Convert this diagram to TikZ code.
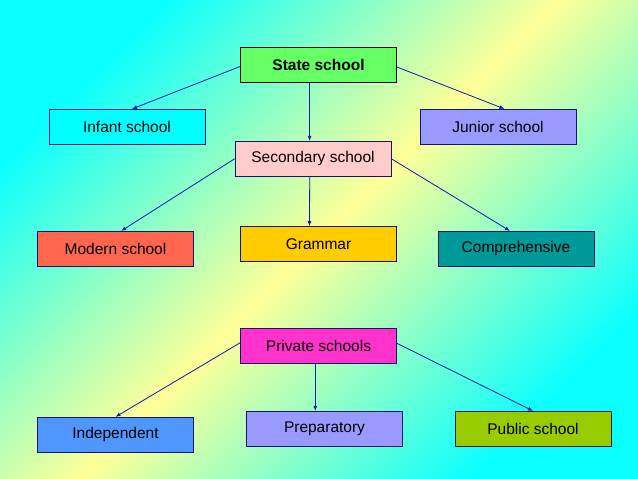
\documentclass[tikz,border=0pt]{standalone}
\usepackage{fontspec}
\setmainfont{Liberation Sans}
\usetikzlibrary{arrows.meta}

\definecolor{bgcyan}{RGB}{10,255,255}
\definecolor{bgyellow}{RGB}{255,255,153}
\definecolor{boxline}{RGB}{20,20,110}
\definecolor{arrowblue}{RGB}{10,30,170}

\begin{document}
\begin{tikzpicture}[x=1pt,y=-1pt,
		school/.style={rectangle,draw=boxline,line width=0.8pt,minimum width=156pt,minimum height=35pt,inner sep=0pt,font={\fontsize{15.5}{18}\selectfont}},
		link/.style={-{Latex[length=5pt,width=4pt]},draw=arrowblue,line width=0.8pt}]

	\useasboundingbox (0,0) rectangle (638,479);
	\shade[left color=bgcyan,right color=bgcyan,middle color=bgyellow,shading angle=45] (0,0) rectangle (638,479);

	% state schools
	\node[school,fill={rgb,255:red,102;green,255;blue,102},draw=black,font={\fontsize{15.5}{18}\selectfont\bfseries}] (state) at (318.5,65) {State school};
	\node[school,fill={rgb,255:red,0;green,255;blue,255}] (infant) at (127,126.8) {Infant school};
	\node[school,fill={rgb,255:red,153;green,153;blue,255}] (junior) at (498,126.8) {Junior school};
	\node[school,fill={rgb,255:red,255;green,204;blue,204}] (secondary) at (313,158.8) {Secondary school};

	\node[school,fill={rgb,255:red,255;green,102;blue,77}] (modern) at (115.5,248.8) {Modern school};
	\node[school,fill={rgb,255:red,255;green,204;blue,0}] (grammar) at (318.5,244) {Grammar};
	\node[school,fill={rgb,255:red,0;green,153;blue,153}] (compr) at (516,248.8) {Comprehensive};

	% private schools
	\node[school,fill={rgb,255:red,255;green,51;blue,204}] (private) at (318.5,345.8) {Private schools};
	\node[school,fill={rgb,255:red,80;green,150;blue,255}] (indep) at (115.5,434.8) {Independent};
	\node[school,fill={rgb,255:red,153;green,153;blue,255}] (prep) at (324.5,428.8) {Preparatory};
	\node[school,fill={rgb,255:red,153;green,204;blue,0}] (public) at (533,428.8) {Public school};

	\draw[link] ([yshift=-1.5pt]state.west) -- ([xshift=5pt]infant.north);
	\draw[link] ([yshift=-2pt]state.east) -- ([xshift=6.5pt]junior.north);
	\draw[link] ([xshift=-9pt]state.south) -- ([xshift=-3.4pt]secondary.north);

	\draw[link] (secondary.west) -- ([xshift=5.7pt]modern.north);
	\draw[link] ([xshift=-3.3pt]secondary.south) -- ([xshift=-9pt]grammar.north);
	\draw[link] (secondary.east) -- ([xshift=-6pt]compr.north);

	\draw[link] ([yshift=3pt]private.west) -- (indep.north);
	\draw[link] ([xshift=-3.2pt]private.south) -- ([xshift=-9.2pt]prep.north);
	\draw[link] ([yshift=2.5pt]private.east) -- (public.north);

\end{tikzpicture}
\end{document}
